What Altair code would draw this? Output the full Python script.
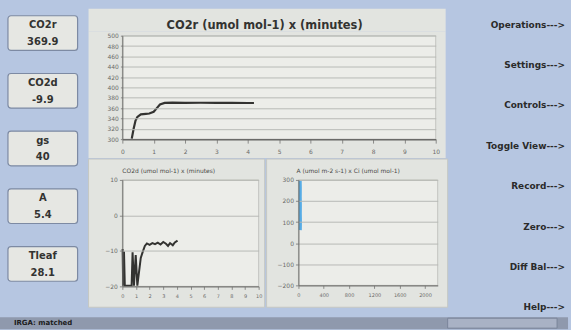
import altair as alt
import pandas as pd

# ---------------- data ----------------
BUTTON_NAMES = ["CO2r", "CO2d", "gs", "A", "Tleaf"]
BUTTON_VALUES = ["369.9", "-9.9", "40", "5.4", "28.1"]
MENU_ITEMS = ["Operations--->", "Settings--->", "Controls--->", "Toggle View--->",
              "Record--->", "Zero--->", "Diff Bal--->", "Help--->"]

TOP_TITLE = "CO2r (umol mol-1) x (minutes)"
BL_TITLE = "CO2d (umol mol-1) x (minutes)"
BR_TITLE = "A (umol m-2 s-1) x Ci (umol mol-1)"
STATUS_TEXT = "IRGA: matched"

co2r_minutes = [0.30, 0.36, 0.42, 0.48, 0.59, 0.75, 0.86, 1.00, 1.10, 1.20, 1.35, 1.60,
                2.00, 2.50, 3.00, 3.50, 4.00, 4.20]
co2r_values = [301, 320, 336, 343, 348, 349, 349.5, 353, 360, 367, 370, 370.5,
               370, 370.3, 370, 370.2, 369.9, 369.9]

co2d_minutes = [0.02, 0.06, 0.12, 0.18, 0.68, 0.75, 0.85, 0.98, 1.10, 1.35, 1.50, 1.65,
                1.80, 2.00, 2.20, 2.40, 2.60, 2.80, 3.00, 3.20, 3.35, 3.50, 3.70, 3.85, 4.05]
co2d_values = [-9.5, -19.8, -10.2, -19.8, -19.8, -10.4, -19.8, -11.2, -19.8, -12.0, -10.2, -8.6,
               -7.9, -8.3, -7.8, -8.1, -7.7, -8.2, -7.5, -8.0, -8.6, -7.8, -8.4, -7.6, -7.1]

ci_values = [28, 30, 29, 31, 30, 32, 30]
a_values = [298, 260, 220, 180, 140, 100, 62]

TOP_Y_TICKS = [300, 320, 340, 360, 380, 400, 420, 440, 460, 480, 500]
MIN_TICKS = [0, 1, 2, 3, 4, 5, 6, 7, 8, 9, 10]
BL_Y_TICKS = [-20, -10, 0, 10]
BR_Y_TICKS = [-200, -100, 0, 100, 200, 300]
BR_X_TICKS = [0, 400, 800, 1200, 1600, 2000]

# ---------------- style ----------------
BG_BLUE = "#b6c6e1"
PANEL = "#e2e4e0"
PANEL_EDGE = "#c6c8c4"
PLOT_BG = "#ecede9"
GRID = "#b7b9b5"
INK = "#333331"
AXIS_TXT = "#6a6a68"

COL_H = 310            # height of the three columns (page y 8..318)
LEFT_W = 88            # page x 0..88
RIGHT_W = 123          # page x 448..571


def axis(values, grid=False, size=6, pad=3, tick=3, **kw):
    return alt.Axis(values=values, grid=grid, gridColor=GRID, gridWidth=1, title=None,
                    labelFontSize=size, labelColor=AXIS_TXT, labelPadding=pad,
                    tickSize=tick, tickColor="#8a8a88", domainColor="#6a6a68",
                    labelFlush=False, labelOverlap=False, format="d", zindex=1, **kw)


def box(x1, x2, y1, y2, **kw):
    return alt.Chart(pd.DataFrame({"k": [0]})).mark_rect(**kw).encode(
        x=alt.value(x1), x2=alt.value(x2), y=alt.value(y1), y2=alt.value(y2))


def label(text, x, y, **kw):
    return alt.Chart(pd.DataFrame({"t": [text]})).mark_text(**kw).encode(
        x=alt.value(x), y=alt.value(y), text="t:N")


# ---------------- left column: value buttons ----------------
bdf = pd.DataFrame({"name": BUTTON_NAMES, "value": BUTTON_VALUES})
by = alt.Y("name:N", sort=BUTTON_NAMES, axis=None,
           scale=alt.Scale(paddingInner=0.4, paddingOuter=0.372, align=0.162))
buttons = alt.Chart(bdf).mark_rect(fill="#e6e7e3", stroke="#7d8aa3", strokeWidth=1.2,
                                   cornerRadius=3).encode(
    y=by, x=alt.value(8), x2=alt.value(78))
name_txt = alt.Chart(bdf).mark_text(dy=-8, fontSize=10, fontWeight="bold", color=INK).encode(
    y=by, x=alt.value(43), text="name:N")
value_txt = alt.Chart(bdf).mark_text(dy=9, fontSize=10, fontWeight="bold", color=INK).encode(
    y=by, x=alt.value(43), text="value:N")
left = alt.layer(buttons, name_txt, value_txt).properties(width=LEFT_W, height=COL_H)

# ---------------- right column: menu ----------------
mdf = pd.DataFrame({"item": MENU_ITEMS})
right = alt.Chart(mdf).mark_text(align="right", fontSize=9, fontWeight="bold",
                                 color="#2a2a2a").encode(
    y=alt.Y("item:N", sort=MENU_ITEMS, axis=None,
            scale=alt.Scale(type="point", padding=0.32, align=0.615)),
    x=alt.value(117), text="item:N").properties(width=RIGHT_W, height=COL_H)

# ---------------- middle: title strip ----------------
title_strip = alt.layer(
    box(-34, 325, 0, 23, fill=PANEL),
    label(TOP_TITLE, 143, 17, fontSize=11.5, fontWeight="bold", color=INK),
).properties(width=315, height=23)

# ---------------- top chart ----------------
TOP_W, TOP_H = 315, 104
top_df = pd.DataFrame({"t": co2r_minutes, "v": co2r_values})
top_line = alt.Chart(top_df).mark_line(color=INK, strokeWidth=2.2).encode(
    x=alt.X("t:Q", scale=alt.Scale(domain=[0, 10], nice=False),
            axis=axis(MIN_TICKS, size=6, pad=5, tick=4, domainWidth=1.5)),
    y=alt.Y("v:Q", scale=alt.Scale(domain=[300, 500], nice=False, zero=False),
            axis=axis(TOP_Y_TICKS, grid=True, size=6, pad=2, tick=2)))
top = alt.layer(
    box(-34, 325, -4, 123, fill=PANEL),
    box(0, TOP_W, 0, TOP_H, fill=PLOT_BG, stroke="#c2c4c0"),
    top_line,
).properties(width=TOP_W, height=TOP_H)

# ---------------- bottom-left chart ----------------
BL_W, BL_H = 137, 107
bl_df = pd.DataFrame({"i": list(range(len(co2d_minutes))), "t": co2d_minutes, "v": co2d_values})
bl_line = alt.Chart(bl_df).mark_line(color=INK, strokeWidth=2).encode(
    x=alt.X("t:Q", scale=alt.Scale(domain=[0, 10], nice=False),
            axis=axis(MIN_TICKS, size=5, pad=4, tick=3)),
    y=alt.Y("v:Q", scale=alt.Scale(domain=[-20, 10], nice=False, zero=False),
            axis=axis(BL_Y_TICKS, grid=True, size=6, pad=2, tick=3)),
    order="i:Q")
bl = alt.layer(
    box(-34, 143, -21, 128, fill=PANEL, stroke=PANEL_EDGE),
    box(0, BL_W, 0, BL_H, fill=PLOT_BG, stroke="#c2c4c0"),
    label(BL_TITLE, 0, -9, align="left", fontSize=6, color="#4a4a48"),
    bl_line,
).properties(width=BL_W, height=BL_H)

# ---------------- bottom-right chart ----------------
BR_W, BR_H = 140, 106
br_df = pd.DataFrame({"i": list(range(len(ci_values))), "ci": ci_values, "a": a_values})
br_line = alt.Chart(br_df).mark_line(color="#56ace6", strokeWidth=3).encode(
    x=alt.X("ci:Q", scale=alt.Scale(domain=[0, 2200], nice=False),
            axis=axis(BR_X_TICKS, size=5, pad=4, tick=3)),
    y=alt.Y("a:Q", scale=alt.Scale(domain=[-200, 300], nice=False, zero=False),
            axis=axis(BR_Y_TICKS, grid=True, size=6, pad=2, tick=3)),
    order="i:Q")
br = alt.layer(
    box(-32, 150, -21, 128, fill=PANEL, stroke=PANEL_EDGE),
    box(0, BR_W, 0, BR_H, fill=PLOT_BG, stroke="#c2c4c0"),
    label(BR_TITLE, -2, -9, align="left", fontSize=6, color="#4a4a48"),
    br_line,
).properties(width=BR_W, height=BR_H)

# ---------------- status bar ----------------
status = alt.layer(
    box(0, 571, 0, 12, fill="#8f99ad"),
    box(450, 560, 1, 11, fill="#a9b2c5", stroke="#7a849a"),
    label(STATUS_TEXT, 14, 6, align="left", fontSize=7, fontWeight="bold", color="#1c1c1c"),
).properties(width=571, height=12)

bottom_row = alt.hconcat(bl, br, spacing=0)
middle = alt.vconcat(title_strip, top, bottom_row, spacing=0)
row = alt.hconcat(left, middle, right, spacing=0)

chart = alt.vconcat(row, status, spacing=0).properties(
    padding={"left": 0, "top": 8, "right": 0, "bottom": 0}
).configure(background=BG_BLUE, font="DejaVu Sans").configure_view(strokeWidth=0)

chart.save("out.html", embed_options={"renderer": "svg", "actions": False})
